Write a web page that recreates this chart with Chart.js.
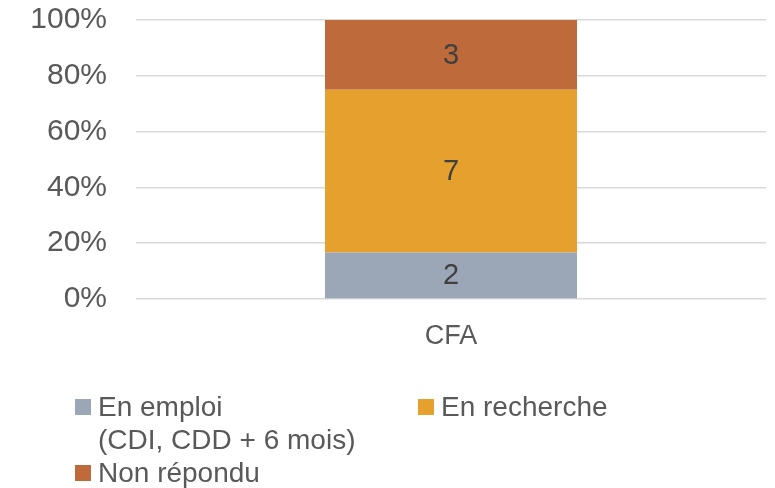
<!DOCTYPE html>
<html>
<head>
<meta charset="utf-8">
<script src="https://cdn.jsdelivr.net/npm/chart.js@4"></script>
<style>
  body { margin: 0; background: #fff; }
  #wrap { position: relative; width: 775px; height: 488px; }
  #legend .item { position: absolute; font-family: "Liberation Sans", Arial, sans-serif; font-size: 28px; line-height: 33px; color: #595959; white-space: pre; }
  #legend .box { position: absolute; width: 16px; height: 16px; left: 0; top: 9px; }
  #legend .txt { position: absolute; left: 23px; top: 0; }
</style>
</head>
<body>
<div id="wrap">
  <canvas id="chart" width="775" height="488"></canvas>
  <div id="legend"></div>
</div>
<script>
// données du graphique
const categories   = ["CFA"];
const series_names = [["En emploi", "(CDI, CDD + 6 mois)"], ["En recherche"], ["Non répondu"]];
const series_counts = [[2], [7], [3]];
const series_colors = ["#9ba7b7", "#e5a02e", "#be6a3a"];
const y_ticks      = [0, 20, 40, 60, 80, 100];

window.addEventListener("load", function () {
    draw_chart();
    draw_legend();
});

// pourcentage de chaque segment par catégorie
function to_percent(counts) {
    let out = [];
    for (let s = 0; s < counts.length; s++) {
        let row = [];
        for (let i = 0; i < categories.length; i++) {
            let total = 0;
            for (let c of counts) total += c[i];
            row.push(counts[s][i] / total * 100);
        }
        out.push(row);
    }
    return out;
}

function draw_chart() {
    let pct = to_percent(series_counts);
    let datasets = [];
    for (let s = 0; s < series_counts.length; s++) {
        datasets.push({
            label: series_names[s].join(" "),
            data: pct[s],
            counts: series_counts[s],
            backgroundColor: series_colors[s],
            categoryPercentage: 1.0,
            barPercentage: 0.4,
        });
    }

    // étiquettes de valeur au centre des segments
    const value_labels = {
        id: "value_labels",
        afterDatasetsDraw(chart) {
            const ctx = chart.ctx;
            ctx.save();
            ctx.font = "29px 'Liberation Sans', Arial, sans-serif";
            ctx.fillStyle = "#404040";
            ctx.textAlign = "center";
            ctx.textBaseline = "middle";
            chart.data.datasets.forEach(function (ds, di) {
                chart.getDatasetMeta(di).data.forEach(function (bar, i) {
                    ctx.fillText(String(ds.counts[i]), bar.x, (bar.y + bar.base) / 2 + 1);
                });
            });
            ctx.restore();
        }
    };

    const ctx = document.getElementById("chart").getContext("2d");
    new Chart(ctx, {
        type: "bar",
        data: { labels: categories, datasets: datasets },
        plugins: [value_labels],
        options: {
            responsive: false,
            animation: false,
            layout: { padding: { left: 0, right: 9, top: 20, bottom: 133 } },
            plugins: { legend: { display: false }, tooltip: { enabled: false } },
            scales: {
                x: {
                    stacked: true,
                    grid: { display: false, drawTicks: false },
                    border: { display: false },
                    ticks: {
                        padding: 21,
                        color: "#595959",
                        font: { family: "'Liberation Sans', Arial", size: 27 }
                    },
                    afterFit: function (s) { s.height = 56; }
                },
                y: {
                    stacked: true,
                    min: 0,
                    max: 100,
                    afterBuildTicks: function (s) { s.ticks = y_ticks.map(v => ({ value: v })); },
                    grid: { color: "#d9d9d9", lineWidth: 1.5, drawTicks: false },
                    border: { display: false },
                    ticks: {
                        padding: 29,
                        color: "#595959",
                        font: { family: "'Liberation Sans', Arial", size: 30 },
                        callback: v => v + "%"
                    },
                    afterFit: function (s) {
                        s.width = 136;
                        s.paddingTop = 0;
                        s.paddingBottom = 0;
                    }
                }
            }
        }
    });
}

function draw_legend() {
    const pos = [[75, 390], [418, 390], [75, 456]];
    const legend = document.getElementById("legend");
    for (let s = 0; s < series_names.length; s++) {
        let item = document.createElement("div");
        item.className = "item";
        item.style.left = pos[s][0] + "px";
        item.style.top = pos[s][1] + "px";
        let box = document.createElement("span");
        box.className = "box";
        box.style.background = series_colors[s];
        let txt = document.createElement("span");
        txt.className = "txt";
        txt.textContent = series_names[s].join("\n");
        item.appendChild(box);
        item.appendChild(txt);
        legend.appendChild(item);
    }
}
</script>
</body>
</html>
